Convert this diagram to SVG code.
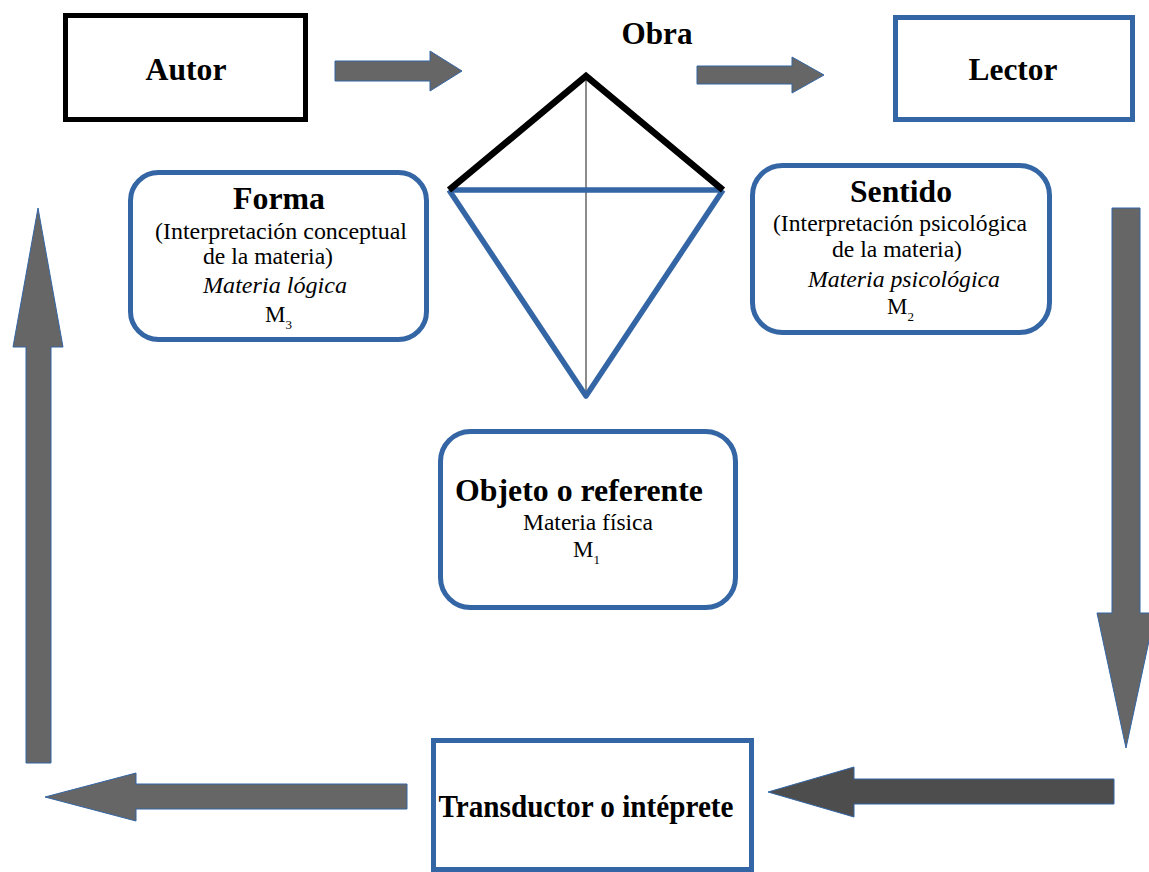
<svg xmlns="http://www.w3.org/2000/svg" width="1149" height="872" viewBox="0 0 1149 872">
  <style>
    .bold { font-family: "Liberation Serif", "Times New Roman", serif; font-weight: bold; font-size: 31px; fill: #000; text-anchor: middle; }
    .reg { font-family: "Liberation Serif", "Times New Roman", serif; font-size: 23px; fill: #000; text-anchor: middle; }
    .it { font-style: italic; }
    .sub { font-size: 13px; }
    .blue-box { fill: #fff; stroke: #3465a4; stroke-width: 5; }
    .arrow { fill: #666666; stroke: #3465a4; stroke-width: 1; stroke-linejoin: miter; }
    .arrow-dark { fill: #4d4d4d; stroke: #3465a4; stroke-width: 1; }
  </style>
  <rect width="1149" height="872" fill="#fff"/>

  <!-- flow arrows -->
  <g id="connectors">
    <polygon class="arrow" points="335,61 430,61 430,51 462,71 430,91 430,81 335,81"/>
    <polygon class="arrow" points="697,66 792,66 792,57 824,75 792,93 792,84 697,84"/>
    <polygon class="arrow" points="1112,208 1140,208 1140,613 1155,613 1126,748 1097,613 1112,613"/>
    <polygon class="arrow-dark" points="1114,779 854,779 854,767 768,792 854,817 854,804 1114,804"/>
    <polygon class="arrow" points="407,784 136,784 136,773 45,797 136,821 136,809 407,809"/>
    <polygon class="arrow" points="38,208 63,347 51,347 51,763 26,763 26,347 13,347"/>
  </g>

  <!-- Autor -->
  <g id="autor">
    <rect x="65.5" y="15.5" width="240" height="104" fill="#fff" stroke="#000" stroke-width="5"/>
    <text class="bold" x="186" y="80" textLength="81" lengthAdjust="spacingAndGlyphs">Autor</text>
  </g>

  <!-- Lector -->
  <g id="lector">
    <rect class="blue-box" x="895.5" y="17.5" width="237" height="102"/>
    <text class="bold" x="1013" y="80" textLength="89" lengthAdjust="spacingAndGlyphs">Lector</text>
  </g>

  <!-- Obra: kite figure -->
  <g id="obra">
    <text class="bold" x="657" y="44" textLength="71" lengthAdjust="spacingAndGlyphs">Obra</text>
    <line x1="586" y1="76" x2="586" y2="396" stroke="#666" stroke-width="1.5"/>
    <polyline points="449,190 586,396 723,190" fill="none" stroke="#3465a4" stroke-width="5.5" stroke-linejoin="round"/>
    <line x1="449" y1="190" x2="723" y2="190" stroke="#3465a4" stroke-width="5.5"/>
    <polyline points="449,190 586,76 723,190" fill="none" stroke="#000" stroke-width="6.5"/>
  </g>

  <!-- Forma -->
  <g id="forma">
    <rect class="blue-box" x="130.5" y="172.5" width="296" height="167" rx="28"/>
    <text class="bold" x="279" y="209" textLength="92" lengthAdjust="spacingAndGlyphs">Forma</text>
    <text class="reg" x="281" y="239" textLength="252" lengthAdjust="spacingAndGlyphs">(Interpretación conceptual</text>
    <text class="reg" x="268" y="264" textLength="130" lengthAdjust="spacingAndGlyphs">de la materia)</text>
    <text class="reg it" x="275" y="293" textLength="144" lengthAdjust="spacingAndGlyphs">Materia lógica</text>
    <text class="reg" x="265" y="322" style="text-anchor:start">M<tspan class="sub" dy="7">3</tspan></text>
  </g>

  <!-- Sentido -->
  <g id="sentido">
    <rect class="blue-box" x="752.5" y="165.5" width="297" height="167" rx="30"/>
    <text class="bold" x="901" y="202" textLength="102" lengthAdjust="spacingAndGlyphs">Sentido</text>
    <text class="reg" x="900" y="231" textLength="254" lengthAdjust="spacingAndGlyphs">(Interpretación psicológica</text>
    <text class="reg" x="897" y="257" textLength="130" lengthAdjust="spacingAndGlyphs">de la materia)</text>
    <text class="reg it" x="904" y="287" textLength="192" lengthAdjust="spacingAndGlyphs">Materia psicológica</text>
    <text class="reg" x="887" y="314" style="text-anchor:start">M<tspan class="sub" dy="7">2</tspan></text>
  </g>

  <!-- Objeto o referente -->
  <g id="objeto">
    <rect class="blue-box" x="440.5" y="431.5" width="295" height="176" rx="30"/>
    <text class="bold" x="579" y="501" textLength="248" lengthAdjust="spacingAndGlyphs">Objeto o referente</text>
    <text class="reg" x="588" y="530" textLength="130" lengthAdjust="spacingAndGlyphs">Materia física</text>
    <text class="reg" x="573" y="557" style="text-anchor:start">M<tspan class="sub" dy="7">1</tspan></text>
  </g>

  <!-- Transductor -->
  <g id="transductor">
    <rect class="blue-box" x="433.5" y="740.5" width="318" height="129"/>
    <text class="bold" x="586" y="817" textLength="295" lengthAdjust="spacingAndGlyphs">Transductor o intéprete</text>
  </g>
</svg>
